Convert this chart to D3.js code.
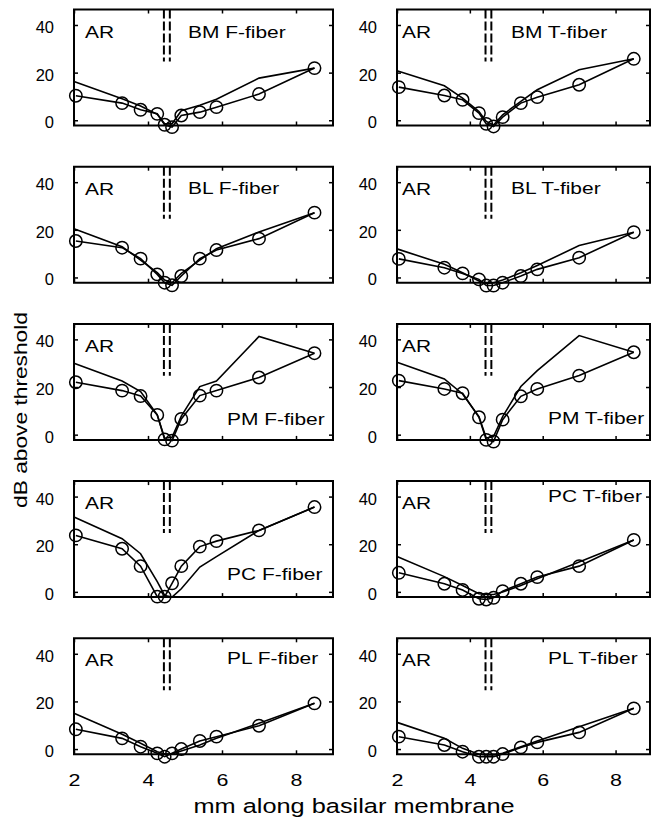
<!DOCTYPE html>
<html><head><meta charset="utf-8">
<script src="https://cdn.jsdelivr.net/npm/d3@7"></script>
<style>
body{margin:0;background:#fff}
svg{display:block}
text{font-family:"Liberation Sans",Arial,sans-serif;fill:#000}
</style>
</head><body>
<svg id="c" width="651" height="823"></svg>
<script>
// ---- data ----
const xTicks = [2, 4, 6, 8];
const yTicks = [0, 20, 40];
const dataX  = [2.05, 3.3, 3.8, 4.25, 4.45, 4.65, 4.9, 5.4, 5.85, 7.0, 8.5];
const modelX = [2.0, 3.3, 3.8, 4.25, 4.45, 4.65, 4.9, 5.4, 5.85, 7.0, 8.5];
const markerX = [4.43, 4.59];
const markerBottom = 24.7;

const bmF_data  = [10.3, 7.2, 4.4, 2.7, -1.9, -2.9, 2.0, 3.4, 5.5, 11.0, 21.9];
const bmF_model = [16.3, 9.0, 6.0, 2.5, -1.5, -1.5, 4.0, 6.3, 8.8, 17.7, 21.9];
const bmT_data  = [13.9, 10.4, 8.6, 3.0, -1.5, -2.6, 1.3, 7.2, 9.7, 14.9, 25.8];
const bmT_model = [20.8, 14.5, 9.3, 3.7, -0.5, -2.0, 2.3, 7.9, 12.8, 21.2, 25.8];
const blF_data  = [15.3, 12.5, 7.9, 1.3, -2.2, -3.3, 0.6, 7.9, 11.5, 16.3, 27.2];
const blF_model = [20.5, 12.9, 7.3, 2.0, -1.1, -2.2, 1.7, 7.3, 12.1, 19.1, 27.2];
const blT_data  = [7.8, 4.1, 1.7, -0.8, -3.4, -3.4, -2.2, 0.6, 3.4, 8.3, 19.0];
const blT_model = [12.0, 5.5, 2.0, -1.5, -2.5, -2.2, -1.1, 2.0, 5.0, 13.4, 19.0];
const pmF_data  = [22.0, 18.5, 16.2, 8.3, -2.0, -2.5, 6.6, 16.4, 18.5, 24.0, 34.2];
const pmF_model = [30.0, 22.5, 18.1, 8.3, -1.5, -1.1, 7.8, 20.2, 22.5, 41.2, 34.2];
const pmT_data  = [22.7, 19.2, 17.4, 7.3, -2.2, -2.9, 6.3, 16.1, 19.2, 24.8, 34.6];
const pmT_model = [30.4, 23.4, 17.1, 7.6, -1.4, -0.8, 7.6, 20.2, 26.9, 41.6, 34.6];
const pcF_data  = [23.7, 18.1, 10.8, -2.0, -2.0, 3.6, 10.8, 19.0, 21.3, 25.8, 35.6];
const pcF_model = [31.4, 22.3, 16.0, 4.3, -1.5, -2.2, 1.3, 10.4, 14.8, 25.8, 35.6];
const pcT_data  = [8.0, 3.4, 0.8, -2.9, -3.2, -2.5, 0.3, 3.4, 6.2, 10.8, 21.8];
const pcT_model = [14.8, 6.4, 2.7, -0.8, -1.1, -1.1, -0.1, 2.7, 5.5, 12.5, 21.8];
const plF_data  = [8.3, 4.5, 1.0, -1.8, -3.2, -1.8, 0.0, 3.4, 5.2, 9.8, 19.2];
const plF_model = [15.0, 6.2, 2.4, -1.1, -2.1, -2.1, -0.8, 1.7, 4.5, 10.8, 19.2];
const plT_data  = [5.2, 1.7, -1.1, -3.2, -3.2, -3.2, -2.1, 0.7, 2.8, 7.0, 17.1];
const plT_model = [11.2, 4.5, 0.3, -2.2, -2.5, -2.5, -1.8, 1.0, 3.4, 9.4, 17.1];

const panelNames = ["BM F-fiber","BM T-fiber","BL F-fiber","BL T-fiber","PM F-fiber",
                    "PM T-fiber","PC F-fiber","PC T-fiber","PL F-fiber","PL T-fiber"];
const panelData  = [bmF_data,bmT_data,blF_data,blT_data,pmF_data,pmT_data,pcF_data,pcT_data,plF_data,plT_data];
const panelModel = [bmF_model,bmT_model,blF_model,blT_model,pmF_model,pmT_model,pcF_model,pcT_model,plF_model,plT_model];
const cornerText = "AR";
const xTitle = "mm along basilar membrane";
const yTitle = "dB above threshold";

// ---- layout (not data) ----
const rowTop = r => 9.5 + r * 157.2;
const plotH = 116;
const colRange = [[74, 333], [397, 652]];
const yDomain = [-2.2, 46.5];
const labelPos = [[114,28],[114,28],[114,27],[114,27],[153,101],
                  [151,100],[153,99],[151,21],[153,26],[151,26]];
const arPos = [[11,28],[5,28]];
const stretch = 1.27;

const svg = d3.select("#c");

panelNames.forEach((name, i) => {
  const row = Math.floor(i / 2), col = i % 2;
  const top = rowTop(row), bottom = top + plotH;
  const x = d3.scaleLinear().domain([2, 9]).range(colRange[col]);
  const y = d3.scaleLinear().domain(yDomain).range([bottom, top]);
  const xl = colRange[col][0], xr = Math.min(colRange[col][1], 650);
  const g = svg.append("g");

  const bx = g.append("g").attr("transform", `translate(0,${bottom})`)
    .call(d3.axisBottom(x).tickValues(xTicks).tickSizeInner(-4).tickSizeOuter(0)
      .tickPadding(19.5).tickFormat(row === 4 ? d3.format("d") : () => ""));
  bx.selectAll("text").attr("font-size", 16.5).attr("transform", `scale(1.3,1)`);
  g.append("g").attr("transform", `translate(0,${top})`)
    .call(d3.axisTop(x).tickValues(xTicks).tickSizeInner(-4).tickSizeOuter(0).tickFormat(() => ""));
  const ly = g.append("g").attr("transform", `translate(${xl},0)`)
    .call(d3.axisLeft(y).tickValues(yTicks).tickSizeInner(-4).tickSizeOuter(0).tickPadding(20));
  ly.selectAll("text").attr("font-size", 16.5).attr("dy", "0.45em");
  g.append("g").attr("transform", `translate(${xr},0)`)
    .call(d3.axisRight(y).tickValues(yTicks).tickSizeInner(-4).tickSizeOuter(0).tickFormat(() => ""));
  g.selectAll(".domain").remove();
  g.selectAll(".tick line").attr("stroke", "#000").attr("stroke-width", 1.5);
  g.selectAll(".tick text").attr("font-family", '"Liberation Sans",Arial,sans-serif').attr("fill", "#000");

  g.append("path")
    .attr("d", `M${xl},${top}H${xr}V${bottom}H${xl}Z`)
    .attr("fill", "none").attr("stroke", "#000").attr("stroke-width", 2);

  markerX.forEach(mx => {
    g.append("line")
      .attr("x1", x(mx)).attr("x2", x(mx))
      .attr("y1", y(yDomain[1])).attr("y2", y(markerBottom))
      .attr("stroke", "#000").attr("stroke-width", 2).attr("stroke-dasharray", "9,3");
  });

  const mline = d3.line().x((d, k) => x(modelX[k])).y(d => y(d));
  g.append("path").attr("d", mline(panelModel[i]))
    .attr("fill", "none").attr("stroke", "#000").attr("stroke-width", 1.6);

  const dline = d3.line().x((d, k) => x(dataX[k])).y(d => y(d));
  g.append("path").attr("d", dline(panelData[i]))
    .attr("fill", "none").attr("stroke", "#000").attr("stroke-width", 1.6);
  g.selectAll("circle.pt").data(panelData[i]).join("circle").attr("class", "pt")
    .attr("cx", (d, k) => x(dataX[k])).attr("cy", d => y(d)).attr("r", 6.2)
    .attr("fill", "none").attr("stroke", "#000").attr("stroke-width", 1.5);

  g.append("text")
    .attr("transform", `translate(${xl + arPos[col][0]},${top + arPos[col][1]}) scale(${stretch},1)`)
    .attr("font-size", 16.5).text(cornerText);
  g.append("text")
    .attr("transform", `translate(${xl + labelPos[i][0]},${top + labelPos[i][1]}) scale(${stretch},1)`)
    .attr("font-size", 16.5).text(name);
});

svg.append("text")
  .attr("transform", "translate(354,813) scale(1.3,1)")
  .attr("text-anchor", "middle").attr("font-size", 19.5).text(xTitle);
svg.append("text")
  .attr("transform", "translate(27,410) rotate(-90) scale(1.23,1)")
  .attr("text-anchor", "middle").attr("font-size", 18.5).text(yTitle);
</script>
</body></html>
